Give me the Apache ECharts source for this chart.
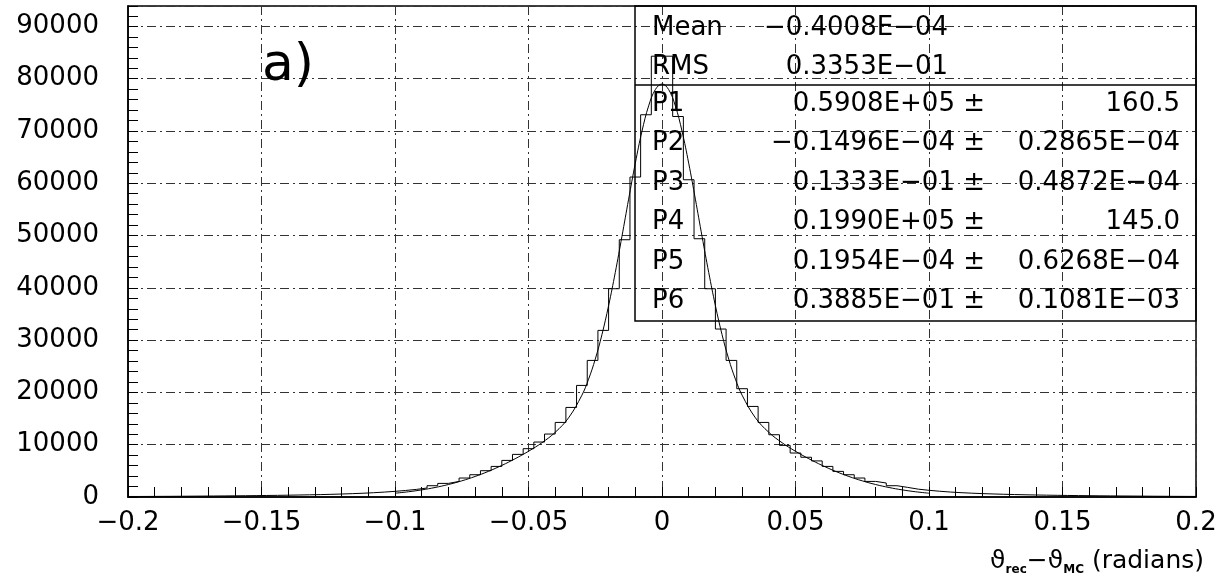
<!DOCTYPE html>
<html>
<head>
<meta charset="utf-8">
<script src="https://cdn.jsdelivr.net/npm/echarts@6/dist/echarts.min.js"></script>
<style>html,body{margin:0;padding:0;background:#fff}#c{width:1227px;height:587px}</style>
</head>
<body>
<div id="c"></div>
<script>
// ---- data ----
var binLow = -0.2;
var binWidth = 0.004;
var binCounts = [
  100,110,120,130,145,160,175,190,205,225,245,265,290,315,345,380,420,460,510,570,640,720,820,940,1080,1250,1450,
  1720,2160,2600,2980,3630,4260,5030,5850,7000,8150,9240,10510,12040,14260,17130,21340,26120,31860,39830,49200,61190,73100,
  84300,84300,
  72770,60670,49390,39830,32120,26120,20710,17320,14260,11910,9870,8410,7600,6900,5850,4900,4260,3630,2980,2680,2160,1840,
  1500,1280,1100,950,830,730,650,580,520,470,425,385,350,320,295,270,250,230,210,195,180,165,150,135,125,115,105
];
var fitX = [-0.1,-0.095,-0.09,-0.085,-0.08,-0.075,-0.07,-0.065,-0.06,-0.055,-0.05,-0.045,-0.04,-0.035,-0.03,-0.0275,-0.025,-0.0225,-0.02,-0.0175,-0.015,-0.0125,-0.01,-0.0075,-0.005,-0.0025,0,
            0.0025,0.005,0.0075,0.01,0.0125,0.015,0.0175,0.02,0.0225,0.025,0.0275,0.03,0.035,0.04,0.045,0.05,0.055,0.06,0.065,0.07,0.075,0.08,0.085,0.09,0.095,0.1];
var fitY = [725,1001,1360,1817,2389,3088,3926,4909,6041,7317,8745,10370,12370,15140,19470,22530,26360,31040,36600,42940,49840,56960,63840,69960,74800,77910,78980,
            77910,74800,69960,63840,56960,49840,42940,36600,31040,26360,22530,19470,15140,12370,10370,8745,7317,6041,4909,3926,3088,2389,1817,1360,1001,725];
var statNames = ['Mean','RMS','P1','P2','P3','P4','P5','P6'];
var statValues = ['\u22120.4008E\u221204','0.3353E\u221201','0.5908E+05 \u00b1','\u22120.1496E\u221204 \u00b1','0.1333E\u221201 \u00b1','0.1990E+05 \u00b1','0.1954E\u221204 \u00b1','0.3885E\u221201 \u00b1'];
var statErrors = ['','','160.5','0.2865E\u221204','0.4872E\u221204','145.0','0.6268E\u221204','0.1081E\u221203'];
var xTicks = [-0.2,-0.15,-0.1,-0.05,0,0.05,0.1,0.15,0.2];
var panelLabel = 'a)';

// ---- build ----
var histData = binCounts.map(function(v,i){ return [binLow + i*binWidth, v]; });
histData.push([binLow + binCounts.length*binWidth, binCounts[binCounts.length-1]]);
var fitData = fitX.map(function(x,i){ return [x, fitY[i]]; });

var F = 'DejaVu Sans';
var gridDash = [9,4,2,4];

var graphics = [];
graphics.push({type:'rect', shape:{x:635,y:6,width:561,height:315}, style:{fill:'none', stroke:'#000', lineWidth:1.5}, z:100});
graphics.push({type:'line', shape:{x1:635,y1:85,x2:1196,y2:85}, style:{stroke:'#000', lineWidth:1.5}, z:100});
var rowY = [28,67,104,143,183,222,262,301];
var SF = '26px "'+F+'"';
for (var i=0;i<statNames.length;i++){
  graphics.push({type:'text', z:100, style:{x:652, y:rowY[i], text:statNames[i], font:SF, fill:'#000', textAlign:'left', textVerticalAlign:'middle'}});
  graphics.push({type:'text', z:100, style:{x:(i<2?948:985), y:rowY[i], text:statValues[i], font:SF, fill:'#000', textAlign:'right', textVerticalAlign:'middle'}});
  if (statErrors[i]) graphics.push({type:'text', z:100, style:{x:1180, y:rowY[i], text:statErrors[i], font:SF, fill:'#000', textAlign:'right', textVerticalAlign:'middle'}});
}
graphics.push({type:'text', z:100, style:{x:262, y:66, text:panelLabel, font:'52px "'+F+'"', fill:'#000', textAlign:'left', textVerticalAlign:'middle'}});
graphics.push({type:'text', z:100, style:{x:1204, y:561,
  text:'{t|\u03d1}{s|rec}{t|\u2212\u03d1}{s|MC}{t| (radians)}',
  rich:{t:{fontSize:25, fontFamily:F, lineHeight:30, fill:'#000'},
        s:{fontSize:12, fontWeight:'bold', fontFamily:F, lineHeight:30, verticalAlign:'bottom', fill:'#000'}},
  textAlign:'right', textVerticalAlign:'middle'}});

var chart = echarts.init(document.getElementById('c'), null, {renderer:'canvas'});
chart.setOption({
  animation:false,
  backgroundColor:'#fff',
  grid:{left:128, right:31, top:6, bottom:90, show:true, borderColor:'#000', borderWidth:1.5, containLabel:false},
  xAxis:{type:'value', min:-0.2, max:0.2, interval:0.05,
    axisLine:{show:true, onZero:false, lineStyle:{color:'#000', width:1.5}},
    axisTick:{show:true, inside:true, length:10, lineStyle:{color:'#000'}},
    minorTick:{show:true, splitNumber:5, length:10, lineStyle:{color:'#000'}},
    splitLine:{show:true, lineStyle:{color:'#333', width:1, type:gridDash}},
    axisLabel:{margin:13, fontSize:26, fontFamily:F, color:'#000',
      formatter:function(v){ var s = String(parseFloat(v.toFixed(3))); return s.replace('-','\u2212'); }}
  },
  yAxis:{type:'value', min:0, max:93900, interval:10000,
    axisLine:{show:true, onZero:false, lineStyle:{color:'#000', width:1.5}},
    axisTick:{show:true, inside:true, length:10, lineStyle:{color:'#000'}},
    minorTick:{show:true, splitNumber:5, length:10, lineStyle:{color:'#000'}},
    splitLine:{show:true, lineStyle:{color:'#333', width:1, type:gridDash}},
    axisLabel:{margin:29, fontSize:26, fontFamily:F, color:'#000', showMaxLabel:false,
      formatter:function(v){ return String(v); }}
  },
  series:[
    {type:'line', data:histData, step:'end', showSymbol:false, symbol:'none', lineStyle:{color:'#000', width:1}, silent:true, z:3},
    {type:'line', data:fitData, smooth:0.4, showSymbol:false, symbol:'none', lineStyle:{color:'#000', width:1}, silent:true, z:4}
  ],
  graphic:graphics
});
</script>
</body>
</html>
